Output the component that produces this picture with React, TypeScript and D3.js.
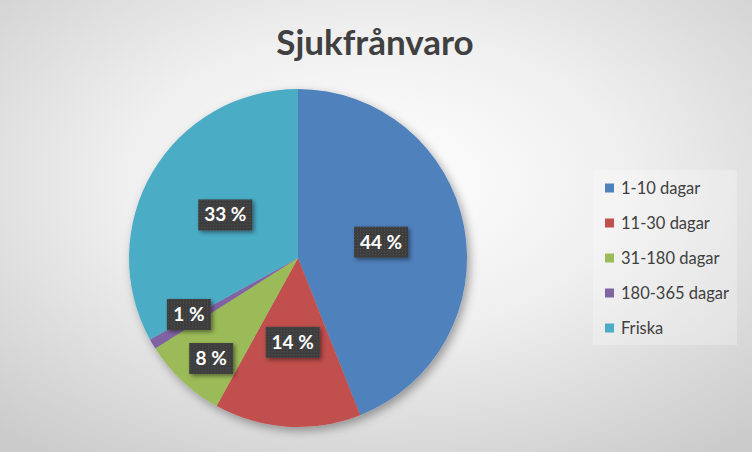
import * as d3 from "d3";

const categories = ["1-10 dagar", "11-30 dagar", "31-180 dagar", "180-365 dagar", "Friska"];
const values = [44, 14, 8, 1, 33];
const colors = ["#4F81BD", "#C0504D", "#9BBB59", "#8064A2", "#4BACC6"];
const title = "Sjukfrånvaro";

const W = 752;
const H = 452;
const cx = 298;
const cy = 258;
const radius = 169;
const boxH = 31;
const minGap = 44; // min vertical distance between overlapping label centres

type Slice = { name: string; value: number; color: string };

export default function App() {
  const data: Slice[] = categories.map((name, i) => ({ name, value: values[i], color: colors[i] }));
  const total = d3.sum(values);

  const pie = d3.pie<Slice>().value((d) => d.value).sort(null);
  const arcs = pie(data);
  const arc = d3.arc<d3.PieArcDatum<Slice>>().innerRadius(0).outerRadius(radius);

  // small slices get their label pushed out a bit, like Excel's best fit
  const labels = arcs.map((a) => {
    const share = a.data.value / total;
    const r = share < 0.1 ? radius * 0.75 : radius * 0.5;
    const mid = (a.startAngle + a.endAngle) / 2;
    const text = `${Math.round(share * 100)} %`;
    return {
      key: a.data.name,
      text,
      w: text.length > 3 ? 54 : 44,
      x: Math.sin(mid) * r,
      y: -Math.cos(mid) * r,
    };
  });

  // nudge colliding labels apart vertically
  for (let i = 0; i < labels.length; i++) {
    for (let j = i + 1; j < labels.length; j++) {
      const a = labels[i];
      const b = labels[j];
      const overlapX = Math.abs(a.x - b.x) < (a.w + b.w) / 2;
      const dy = Math.abs(a.y - b.y);
      if (overlapX && dy < minGap) {
        const push = (minGap - dy) / 2;
        const [top, bottom] = a.y < b.y ? [a, b] : [b, a];
        top.y -= push;
        bottom.y += push;
      }
    }
  }

  const legendY = d3.scalePoint<string>().domain(categories).range([188, 328]);

  return (
    <svg
      width={W}
      height={H}
      style={{ position: "absolute", left: 0, top: 0, display: "block" }}
    >
      <defs>
        <radialGradient id="bg" cx="50%" cy="40%" r="75%">
          <stop offset="0%" stopColor="#ffffff" />
          <stop offset="45%" stopColor="#efefef" />
          <stop offset="100%" stopColor="#cbcbcb" />
        </radialGradient>
        <filter id="pieShadow" x="-20%" y="-20%" width="140%" height="140%">
          <feDropShadow dx="3" dy="4" stdDeviation="5" floodColor="#000" floodOpacity="0.35" />
        </filter>
        <filter id="boxShadow" x="-30%" y="-30%" width="160%" height="160%">
          <feDropShadow dx="2" dy="2" stdDeviation="2" floodColor="#000" floodOpacity="0.45" />
        </filter>
        <pattern id="dots" width="3" height="3" patternUnits="userSpaceOnUse">
          <rect width="3" height="3" fill="#3d3d3d" />
          <rect width="1" height="1" fill="#555" />
        </pattern>
      </defs>

      <rect width={W} height={H} fill="url(#bg)" />

      <text
        x={375}
        y={55}
        textAnchor="middle"
        fontFamily="Lato, 'Open Sans', sans-serif"
        fontWeight="bold"
        fontSize={35}
        fill="#404040"
      >
        {title}
      </text>

      <g transform={`translate(${cx},${cy})`}>
        <g filter="url(#pieShadow)">
          {arcs.map((a) => (
            <path key={a.data.name} d={arc(a) ?? ""} fill={a.data.color} />
          ))}
        </g>
        {labels.map((l) => (
          <g key={l.key + "-label"} transform={`translate(${l.x},${l.y})`}>
            <rect
              x={-l.w / 2}
              y={-boxH / 2}
              width={l.w}
              height={boxH}
              fill="url(#dots)"
              filter="url(#boxShadow)"
            />
            <text
              y={6.5}
              textAnchor="middle"
              fontFamily="Lato, 'Open Sans', sans-serif"
              fontWeight="bold"
              fontSize={19}
              fill="#ffffff"
            >
              {l.text}
            </text>
          </g>
        ))}
      </g>

      <rect x={593} y={170} width={144} height={175} fill="#ffffff" opacity={0.25} />
      {categories.map((c, i) => (
        <g key={c} transform={`translate(605,${legendY(c)})`}>
          <rect x={0} y={-4.5} width={9} height={9} fill={colors[i]} />
          <text
            x={16}
            y={5.5}
            fontFamily="Lato, 'Open Sans', sans-serif"
            fontSize={16.5}
            fill="#404040"
          >
            {c}
          </text>
        </g>
      ))}
    </svg>
  );
}
